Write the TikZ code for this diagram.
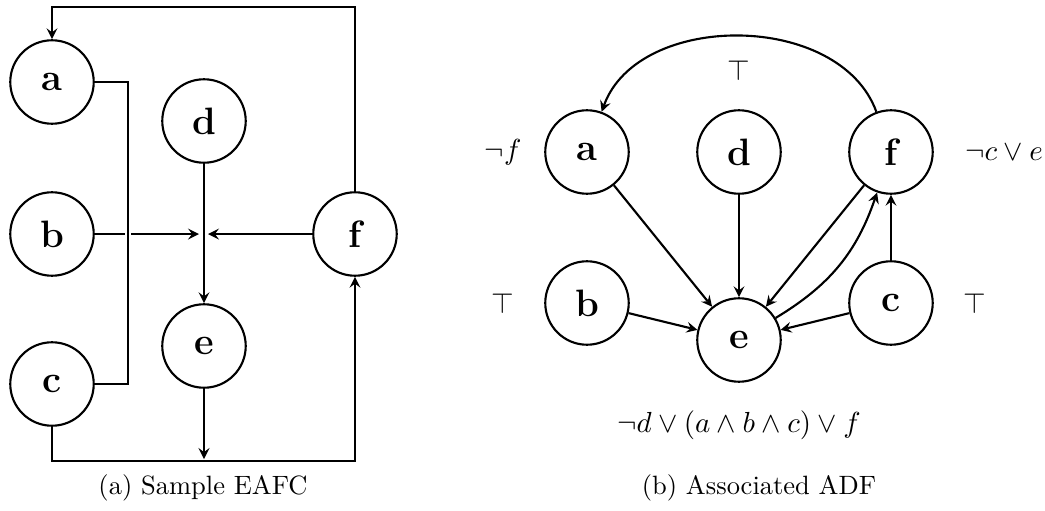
\documentclass[tikz,border=0pt]{standalone}
\usepackage{amssymb}
\usetikzlibrary{arrows}
\begin{document}
\begin{tikzpicture}[x=0.3774pt,y=-0.3774pt,
  arg/.style={circle,draw,thick,minimum size=31.5pt,inner sep=0pt,font=\Large\bfseries},
  con/.style={thick,->,>=stealth},
  line/.style={thick},
  lab/.style={inner sep=0pt},
  acc/.style={inner sep=0pt,font=\fontsize{11}{13}\selectfont}]
\useasboundingbox (0,0) rectangle (1045,511);
% ---------- (a) ----------
\node[arg] (la) at (52,82) {a};
\node[arg] (lb) at (52,234) {b};
\node[arg] (lc) at (52,384) {c};
\node[arg] (ld) at (204,121) {d};
\node[arg] (le) at (204,346) {e};
\node[arg] (lf) at (355,234) {f};
\coordinate (jl) at (199,234);
\coordinate (jr) at (208,234);
\coordinate (bot) at (204,459);
\coordinate (gap1) at (128,228);
\coordinate (gap2) at (128,240);
\draw[con] (lb) -- (jl);
\draw[con] (lf) -- (jr);
\draw[white,line width=2.6pt] (gap1) -- (gap2);
\draw[line] (la.east) -- (128,0 |- la.east) -- (128,0 |- lc.east) -- (lc.east);
\draw[con] (ld) -- (le);
\draw[con] (le) -- (bot);
\draw[con] (lc.south) -- (52,461) -- (355,461) -- (lf.south);
\draw[con] (lf.north) -- (355,7) -- (52,7) -- (la.north);
\node[lab] (capa) at (203,488) {(a) Sample EAFC};
% ---------- (b) ----------
\node[arg] (ra) at (587,152) {a};
\node[arg] (rd) at (739,152) {d};
\node[arg] (rf) at (891,152) {f};
\node[arg] (rb) at (587,303) {b};
\node[arg] (re) at (739,340) {e};
\node[arg] (rc) at (891,303) {c};
\node[acc] (ta) at (503,152) {$\neg f$};
\node[acc] (tf) at (1004,152) {$\neg c\vee e$};
\node[acc] (tb) at (503,303) {$\top$};
\node[acc] (tc) at (975,303) {$\top$};
\node[acc] (tt) at (739,70) {$\top$};
\node[acc] (te) at (739,425) {$\neg d\vee(a\wedge b\wedge c)\vee f$};
\draw[con] (rf) to[out=110,in=70] (ra);
\draw[con] (ra) -- (re);
\draw[con] (rd) -- (re);
\draw[con] (rb) -- (re);
\draw[con] (rc) -- (re);
\draw[con] (rf) -- (re);
\draw[con] (re) to[bend right=20] (rf);
\draw[con] (rc) -- (rf);
\node[lab] (capb) at (759,488) {(b) Associated ADF};
\end{tikzpicture}
\end{document}
